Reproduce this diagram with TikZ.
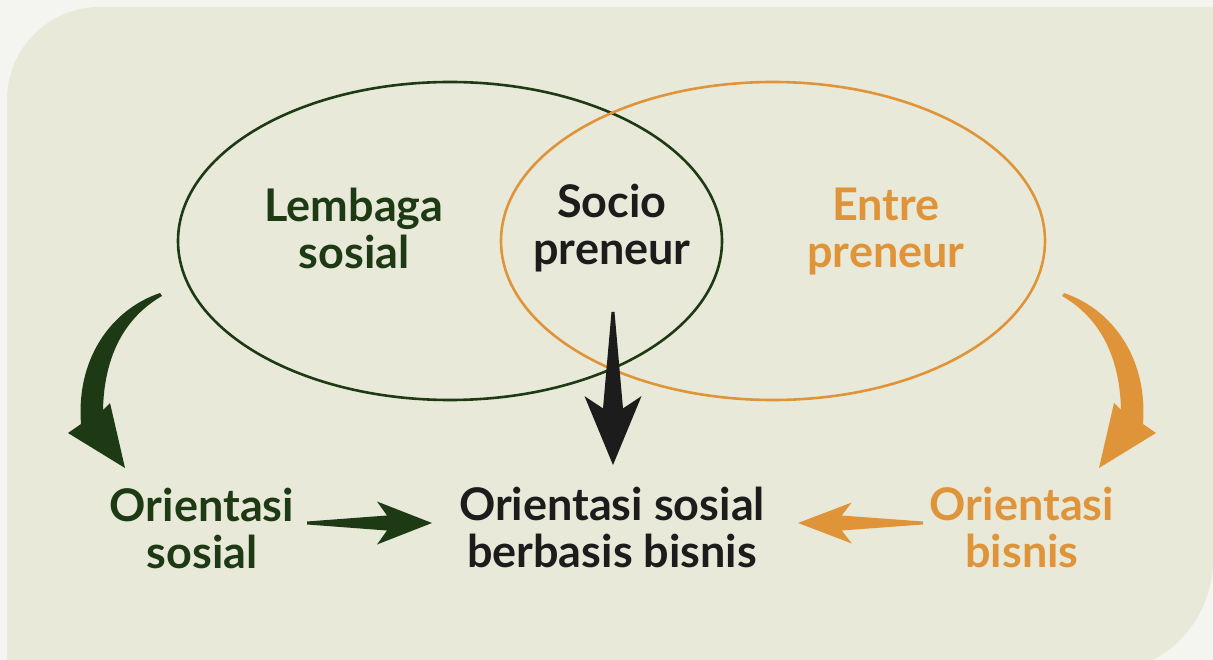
\documentclass[tikz,border=0pt]{standalone}
\usepackage{fontspec}
\setmainfont{Lato}
\usetikzlibrary{positioning,calc,shapes.geometric}

\definecolor{bgfill}{HTML}{E8E9D8}
\definecolor{paper}{HTML}{F4F4F1}
\definecolor{leafgreen}{HTML}{1E3A14}
\definecolor{amber}{HTML}{E0943A}
\definecolor{inkblack}{HTML}{1C1C1C}

% fat straight arrow: colour, tail, tip, barb fraction, barb half width, body half width
\newcommand{\fatarrow}[6]{%
  \fill[#1] ($(#2)!1.5pt!90:(#3)$) -- ($(#2)!#4+0.08!(#3)!#6!90:(#3)$)
    -- ($(#2)!#4!(#3)!#5!90:(#3)$) -- (#3)
    -- ($(#2)!#4!(#3)!#5!-90:(#3)$) -- ($(#2)!#4+0.08!(#3)!#6!-90:(#3)$)
    -- ($(#2)!1.5pt!-90:(#3)$) -- cycle;}

\tikzset{
  txt/.style={align=center, inner sep=0pt, font=\bfseries\fontsize{45}{47}\selectfont},
  ring/.style={draw, ellipse, line width=2.6pt, inner sep=0pt,
    minimum width=544pt, minimum height=318pt},
  bendarrow/.pic={
    \fill[#1] (0,0) .. controls (-50,17) and (-84,67) .. (-79,131) -- (-92,140)
      -- (-35,175) -- (-50,110) -- (-57,117) .. controls (-56,67) and (-38,26) .. (2,3) -- cycle;
  }
}

\begin{document}
\begin{tikzpicture}[x=1pt,y=-1pt]

  \useasboundingbox (0,0) rectangle (1213,660);
  \clip (0,0) rectangle (1213,660);
  \fill[paper] (0,0) rectangle (1213,660);
  \fill[bgfill] (7,680) -- (7,100) arc[start angle=180, end angle=270, radius=93]
    -- (1213,7) -- (1213,560) arc[start angle=0, end angle=90, radius=113] -- cycle;

  % the two sets
  \node[ring, draw=leafgreen] (social) at (450,241) {};
  \node[ring, draw=amber] (business) at (773,241) {};

  % arrow ends
  \coordinate (gtail) at (160,293);
  \coordinate (otail) at (1064,293);
  \coordinate (sptail) at (613,312);
  \coordinate (sptip) at (613,465);
  \coordinate (ostail) at (307,523);
  \coordinate (ostip) at (432,523);
  \coordinate (obtail) at (923,523);
  \coordinate (obtip) at (798,523);

  \pic at (gtail) {bendarrow=leafgreen};
  \pic[xscale=-1] at (otail) {bendarrow=amber};
  \fatarrow{inkblack}{sptail}{sptip}{0.55}{28.5pt}{10pt}
  \fatarrow{leafgreen}{ostail}{ostip}{0.56}{21.5pt}{7.5pt}
  \fatarrow{amber}{obtail}{obtip}{0.57}{20.5pt}{7.5pt}

  % labels
  \node[txt, text=leafgreen] (lembaga) at (354,228) {Lembaga\\sosial};
  \node[txt, text=inkblack] (socio) at (612,228) {Socio\\preneur};
  \node[txt, text=amber] (entre) at (886,232) {Entre\\preneur};
  \node[txt, text=leafgreen] (osos) at (202,528) {Orientasi\\sosial};
  \node[txt, text=inkblack] (obb) at (612,527) {Orientasi sosial\\berbasis bisnis};
  \node[txt, text=amber] (obis) at (1022,527) {Orientasi\\bisnis};

\end{tikzpicture}
\end{document}
